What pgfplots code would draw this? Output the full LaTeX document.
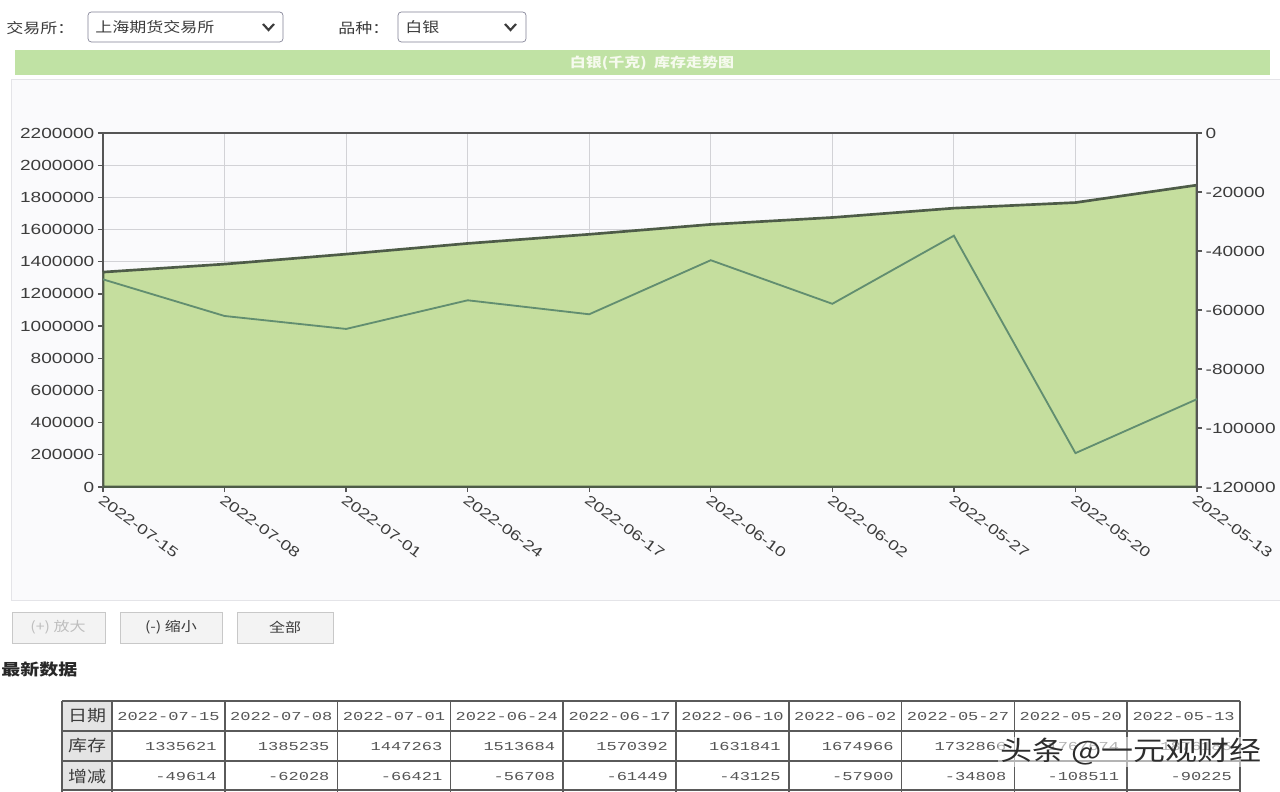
\documentclass[border=0pt]{standalone}
\usepackage{fontspec}
\setmainfont{Liberation Sans}
\newfontfamily\cjk[FakeStretch=1.2]{Noto Sans CJK SC}
\newfontfamily\tickf[FakeStretch=1.3]{Liberation Sans}
\newfontfamily\tabf[FakeStretch=1.4]{Liberation Mono}
\usepackage{pgfplots}
\pgfplotsset{compat=1.18}
\definecolor{barc}{RGB}{192,226,164}
\definecolor{areac}{RGB}{197,222,158}
\definecolor{arealine}{RGB}{78,92,72}
\definecolor{chgline}{RGB}{98,142,112}
\definecolor{gridc}{RGB}{210,210,214}
\definecolor{axisc}{RGB}{85,85,85}
\definecolor{txtc}{RGB}{60,60,60}
\definecolor{panelc}{RGB}{250,250,252}
\definecolor{panelb}{RGB}{228,228,232}
\definecolor{btnc}{RGB}{243,243,243}
\definecolor{btnb}{RGB}{200,200,200}
\definecolor{tabl}{RGB}{90,90,90}
\definecolor{tabg}{RGB}{228,228,228}
\begin{document}
\begin{tikzpicture}
\path[use as bounding box] (0,0) rectangle (768pt,-475.2pt);
\clip (0,0) rectangle (768pt,-475.2pt);
\fill[white] (0,0) rectangle (768pt,-475.2pt);
\begin{scope}[x=0.6pt,y=-0.6pt]
  % top controls
  \node[anchor=west,inner sep=0pt,text=txtc] at (6,28) {\cjk\fontsize{8.5}{9}\selectfont 交易所：};
  \draw[rounded corners=2pt,draw={rgb,255:red,130;green,130;blue,150},fill=white] (88,12) rectangle (283,42);
  \node[anchor=west,inner sep=0pt,text=txtc] at (95,27) {\cjk\fontsize{8.5}{9}\selectfont 上海期货交易所};
  \draw[line width=1.3pt,txtc] (263,24) -- (268.5,30) -- (274,24);
  \node[anchor=west,inner sep=0pt,text=txtc] at (338,28) {\cjk\fontsize{8.5}{9}\selectfont 品种：};
  \draw[rounded corners=2pt,draw={rgb,255:red,130;green,130;blue,150},fill=white] (398,12) rectangle (526,42);
  \node[anchor=west,inner sep=0pt,text=txtc] at (405,27) {\cjk\fontsize{8.5}{9}\selectfont 白银};
  \draw[line width=1.3pt,txtc] (505,24) -- (510.5,30) -- (516,24);
  % panel
  \draw[panelb,fill=panelc] (11,79) rectangle (1282,600);
  % title bar
  \fill[barc] (15,50) rectangle (1270,75);
  \node[inner sep=0pt,text={rgb,255:red,246;green,250;blue,238}] at (652,63) {\cjk\fontsize{8}{9}\selectfont\bfseries 白银(千克)\ \ 库存走势图};
  % buttons
  \draw[btnb,fill=btnc] (12,612) rectangle (105,643);
  \node[inner sep=0pt,text={rgb,255:red,190;green,190;blue,190}] at (58,627) {\cjk\fontsize{8}{9}\selectfont (+) 放大};
  \draw[btnb,fill=btnc] (120,612) rectangle (222,643);
  \node[inner sep=0pt,text=txtc] at (171,627) {\cjk\fontsize{8}{9}\selectfont (-) 缩小};
  \draw[btnb,fill=btnc] (237,612) rectangle (333,643);
  \node[inner sep=0pt,text=txtc] at (285,627) {\cjk\fontsize{8}{9}\selectfont 全部};
  \node[anchor=west,inner sep=0pt,text={rgb,255:red,40;green,40;blue,40}] at (1,669) {\cjk\fontsize{9.5}{10}\selectfont\bfseries 最新数据};
  % table
  \fill[tabg] (62,702) rectangle (112,790);
  \foreach \yy in {701,731,761,790} { \draw[tabl,line width=0.9pt] (62,\yy) -- (1240,\yy); }
  \draw[tabl,line width=0.9pt] (62,701) -- (62,792);
  \draw[tabl,line width=0.9pt] (112,701) -- (112,792);
  \foreach \i in {1,...,10} { \draw[tabl,line width=0.9pt] ({112+112.8*\i},701) -- ({112+112.8*\i},792); }
  \node[text=txtc,inner sep=0pt] at (87,716) {\cjk\fontsize{9.5}{10}\selectfont 日期};
  \node[text=txtc,inner sep=0pt] at (87,746) {\cjk\fontsize{9.5}{10}\selectfont 库存};
  \node[text=txtc,inner sep=0pt] at (87,776) {\cjk\fontsize{9.5}{10}\selectfont 增减};
  \foreach \d [count=\i from 0] in {2022-07-15,2022-07-08,2022-07-01,2022-06-24,2022-06-17,2022-06-10,2022-06-02,2022-05-27,2022-05-20,2022-05-13}
    { \node[text={rgb,255:red,85;green,85;blue,85},inner sep=0pt] at ({168.4+112.8*\i},716) {\tabf\fontsize{7.3}{8}\selectfont \d}; }
  \foreach \v [count=\i from 0] in {1335621,1385235,1447263,1513684,1570392,1631841,1674966,1732866,1767674,1876185}
    { \node[text={rgb,255:red,85;green,85;blue,85},inner sep=0pt,anchor=east] at ({217+112.8*\i},746) {\tabf\fontsize{7.3}{8}\selectfont \v}; }
  \foreach \v [count=\i from 0] in {-49614,-62028,-66421,-56708,-61449,-43125,-57900,-34808,-108511,-90225}
    { \node[text={rgb,255:red,85;green,85;blue,85},inner sep=0pt,anchor=east] at ({217+112.8*\i},776) {\tabf\fontsize{7.3}{8}\selectfont \v}; }
  \node[anchor=west,inner sep=1pt,fill=white,fill opacity=0.55,text opacity=1,text={rgb,255:red,45;green,45;blue,45}] at (998,752) {\cjk\fontsize{16}{17}\selectfont 头条\ @一元观财经};
  \coordinate (plotSW) at (103,487);
\end{scope}
\begin{axis}[
  at={(plotSW)}, anchor=south west, scale only axis,
  width=656.4pt, height=212.4pt,
  xmin=0, xmax=9, ymin=0, ymax=2200000,
  xtick={0,...,9},
  xticklabels={2022-07-15,2022-07-08,2022-07-01,2022-06-24,2022-06-17,2022-06-10,2022-06-02,2022-05-27,2022-05-20,2022-05-13},
  ytick={0,200000,...,2200000},
  scaled y ticks=false,
  /pgf/number format/assume math mode=true,
  yticklabel style={/pgf/number format/fixed,/pgf/number format/1000 sep={}},
  x tick label style={rotate=-36,anchor=north west,font=\tickf\fontsize{8.5}{9}\selectfont,text=txtc,inner sep=1pt},
  y tick label style={font=\tickf\fontsize{8.8}{9}\selectfont,text=txtc,inner sep=2pt},
  xtick pos=bottom, ytick pos=left, tick align=outside,
  major tick length=3pt,
  grid=major, major grid style={gridc,line width=0.6pt},
  axis line style={axisc,line width=1pt},
  tick style={axisc,line width=0.8pt},
]
\addplot[fill=areac,draw=arealine,line width=1.6pt] coordinates {
 (0,1335621) (1,1385235) (2,1447263) (3,1513684) (4,1570392)
 (5,1631841) (6,1674966) (7,1732866) (8,1767674) (9,1876185)} \closedcycle;
\end{axis}
\begin{axis}[
  at={(plotSW)}, anchor=south west, scale only axis,
  width=656.4pt, height=212.4pt,
  xmin=0, xmax=9, ymin=-120000, ymax=0,
  ytick={-120000,-100000,...,0},
  axis x line=none, axis y line*=right,
  scaled y ticks=false,
  /pgf/number format/assume math mode=true,
  yticklabel style={/pgf/number format/fixed,/pgf/number format/1000 sep={}},
  y tick label style={font=\tickf\fontsize{8.8}{9}\selectfont,text=txtc,inner sep=2pt},
  tick align=outside, major tick length=3pt,
  axis line style={axisc,line width=1pt},
  tick style={axisc,line width=0.8pt},
]
\addplot[chgline,line width=1.1pt] coordinates {
 (0,-49614) (1,-62028) (2,-66421) (3,-56708) (4,-61449)
 (5,-43125) (6,-57900) (7,-34808) (8,-108511) (9,-90225)};
\end{axis}
\end{tikzpicture}
\end{document}
